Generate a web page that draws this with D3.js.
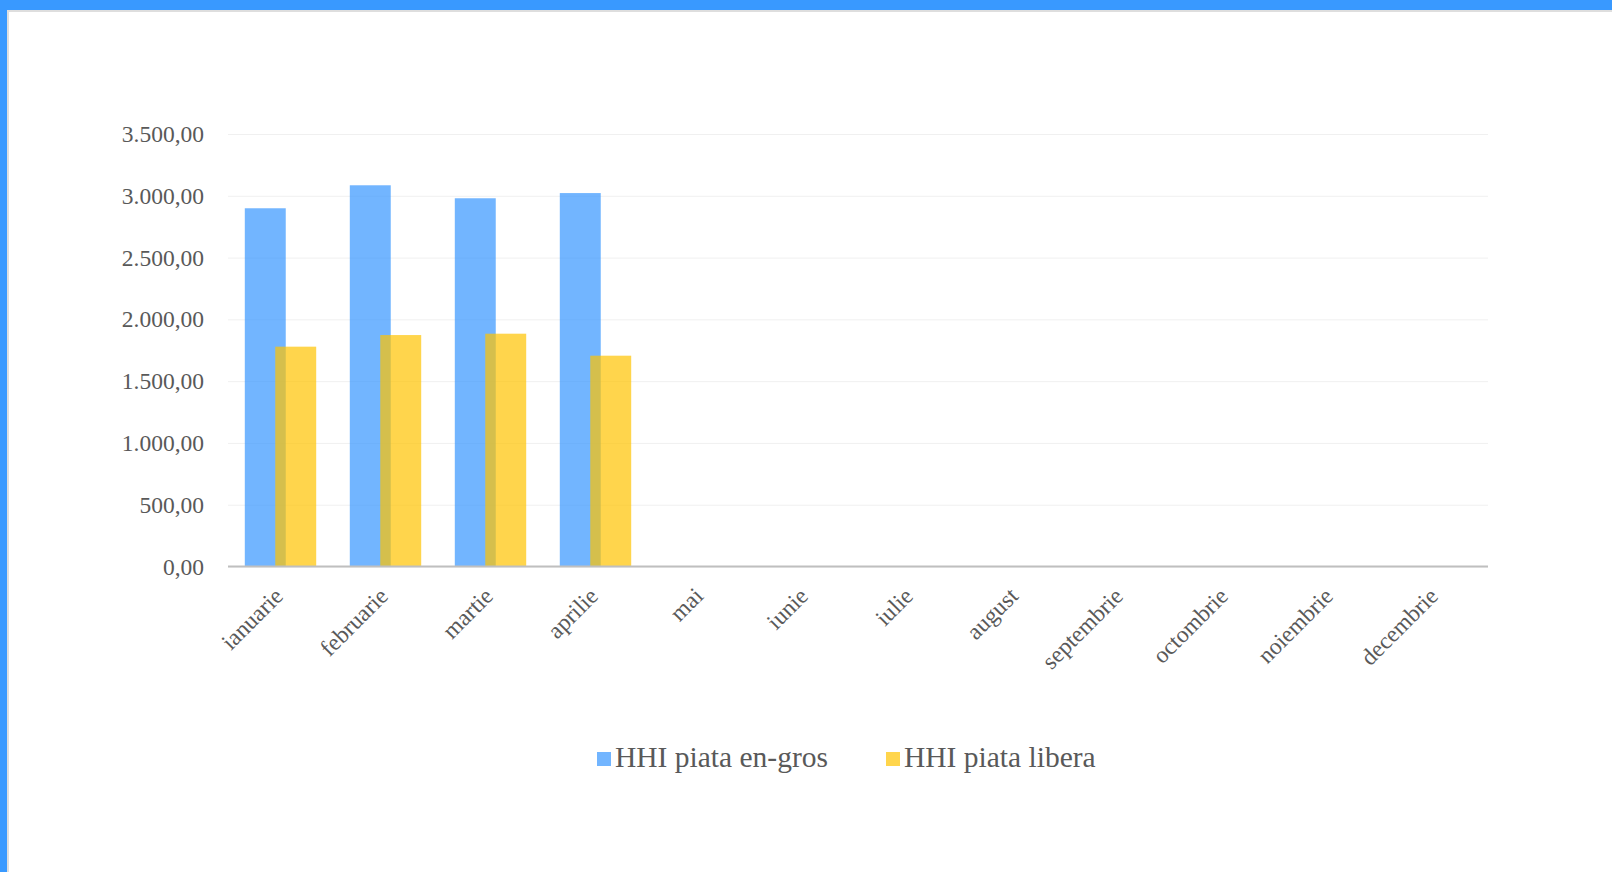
<!DOCTYPE html>
<html>
<head>
<meta charset="utf-8">
<script src="https://cdn.jsdelivr.net/npm/d3@7"></script>
<style>
  html, body { margin: 0; padding: 0; background: #fff; }
  svg { display: block; }
  text { font-family: "Liberation Serif", "Times New Roman", serif; fill: #595959; }
</style>
</head>
<body>
<script>
const months = ["ianuarie", "februarie", "martie", "aprilie", "mai", "iunie",
  "iulie", "august", "septembrie", "octombrie", "noiembrie", "decembrie"];
const engros = [2899, 3085, 2980, 3022, null, null, null, null, null, null, null, null];
const libera = [1779, 1873, 1884, 1706, null, null, null, null, null, null, null, null];
const seriesNames = ["HHI piata en-gros", "HHI piata libera"];
const yTicks = [0, 500, 1000, 1500, 2000, 2500, 3000, 3500];

const W = 1612;
const H = 872;
const plotLeft = 228, plotRight = 1488, plotTop = 134, plotBottom = 566.5;
const colors = ["rgb(54,150,255)", "rgb(255,195,0)"];

const svg = d3.select("body").append("svg")
  .attr("width", W)
  .attr("height", H);

// frame
svg.append("rect").attr("x", 0).attr("y", 0).attr("width", W).attr("height", H).attr("fill", "#3999ff");
svg.append("rect").attr("x", 7).attr("y", 10).attr("width", W - 7).attr("height", H - 10).attr("fill", "#dedede");
svg.append("rect").attr("x", 9).attr("y", 12).attr("width", W - 9).attr("height", H - 12).attr("fill", "#fff");

const x = d3.scaleBand().domain(months).range([plotLeft, plotRight]);
const y = d3.scaleLinear().domain([0, 3500]).range([plotBottom, plotTop]);

const ro = d3.formatLocale({ decimal: ",", thousands: ".", grouping: [3], currency: ["", ""] });
const fmt = ro.format(",.2f");

// grid + y labels
const yAxis = d3.axisLeft(y)
  .tickValues(yTicks)
  .tickSize(-(plotRight - plotLeft))
  .tickPadding(24)
  .tickFormat(fmt);

const gy = svg.append("g")
  .attr("transform", "translate(" + plotLeft + ",0)")
  .call(yAxis);
gy.select(".domain").remove();
gy.selectAll(".tick line").attr("stroke", "#f0f0f0").attr("stroke-width", 1);
gy.selectAll(".tick text")
  .attr("font-size", 23.5)
  .attr("dy", "0.32em")
  .style("font-family", "'Liberation Serif', serif")
  .attr("fill", "#595959");

// bars
const barW = x.bandwidth() * 0.39;
const step = x.bandwidth() * 0.29;
const series = [engros, libera];

series.forEach((vals, si) => {
  svg.append("g")
    .selectAll("rect")
    .data(months.map((m, i) => ({ m: m, v: vals[i] })).filter(d => d.v != null))
    .enter()
    .append("rect")
    .attr("x", d => x(d.m) + x.bandwidth() / 2 - (barW + step) / 2 + si * step)
    .attr("y", d => y(d.v))
    .attr("width", barW)
    .attr("height", d => y(0) - y(d.v))
    .attr("fill", colors[si])
    .attr("fill-opacity", 0.7);
});

// x axis
const xAxis = d3.axisBottom(x).tickSize(0).tickPadding(0);
const gx = svg.append("g")
  .attr("transform", "translate(0," + plotBottom + ")")
  .call(xAxis);
gx.select(".domain").attr("stroke", "#bfbfbf").attr("stroke-width", 2)
  .attr("d", "M" + plotLeft + ",0H" + plotRight);
gx.selectAll(".tick text")
  .attr("font-size", 23.5)
  .style("font-family", "'Liberation Serif', serif")
  .attr("fill", "#595959")
  .attr("text-anchor", "end")
  .attr("dy", null)
  .attr("y", 0)
  .attr("transform", "translate(4,31) rotate(-45)");

// legend
const legendX = [596, 885];
const legY = 767;
const leg = svg.append("g");
seriesNames.forEach((name, i) => {
  leg.append("rect")
    .attr("x", legendX[i] + 1)
    .attr("y", legY - 15)
    .attr("width", 14)
    .attr("height", 14)
    .attr("fill", colors[i])
    .attr("fill-opacity", 0.7);
  leg.append("text")
    .attr("x", legendX[i] + 19)
    .attr("y", legY)
    .attr("font-size", 29.5)
    .text(name);
});
</script>
</body>
</html>
